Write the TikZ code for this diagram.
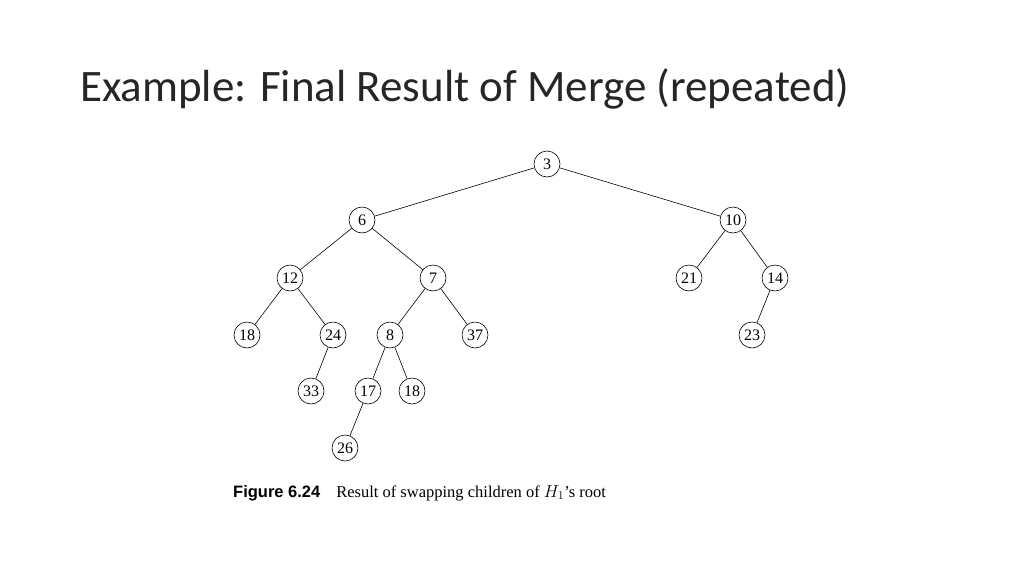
\documentclass[tikz,border=0pt]{standalone}
\usepackage{fontspec}
\setmainfont{Liberation Serif}
\newfontfamily\titlefont{Carlito}
\newfontfamily\capsans{Liberation Sans}
\begin{document}
\begin{tikzpicture}[x=1pt,y=-1pt,
  nd/.style={circle,draw,line width=0.6pt,minimum size=26pt,inner sep=0pt,font=\fontsize{16}{16}\selectfont},
  ed/.style={draw,line width=0.6pt}]
\useasboundingbox (0,0) rectangle (1024,576);
\node[anchor=base west,inner sep=0pt,font=\titlefont\fontsize{45}{45}\selectfont,text=black!85] (title) at (80,101) {Example: Final Result of Merge (repeated)};
\node[nd] (n3) at (547,164) {3};
\node[nd] (n6) at (362,220) {6};
\node[nd] (n10) at (733,220) {10};
\node[nd] (n12) at (290,278) {12};
\node[nd] (n7) at (433,278) {7};
\node[nd] (n21) at (689,278) {21};
\node[nd] (n14) at (775,278) {14};
\node[nd] (n18a) at (247,335) {18};
\node[nd] (n24) at (333,335) {24};
\node[nd] (n8) at (390,335) {8};
\node[nd] (n37) at (475,335) {37};
\node[nd] (n23) at (752,335) {23};
\node[nd] (n33) at (311,391) {33};
\node[nd] (n17) at (368,391) {17};
\node[nd] (n18b) at (412,391) {18};
\node[nd] (n26) at (345,448) {26};
\foreach \a/\b in {n3/n6,n3/n10,n6/n12,n6/n7,n10/n21,n10/n14,n12/n18a,n12/n24,n7/n8,n7/n37,n14/n23,n24/n33,n8/n17,n8/n18b,n17/n26}
  \draw[ed] (\a) -- (\b);
\node[anchor=base west,inner sep=0pt] (cap) at (233,497) {{\capsans\bfseries\fontsize{16.5}{16.5}\selectfont Figure 6.24}\hspace{16pt}{\fontsize{16.5}{16.5}\selectfont Result of swapping children of $H_1$'s root}};
\end{tikzpicture}
\end{document}
